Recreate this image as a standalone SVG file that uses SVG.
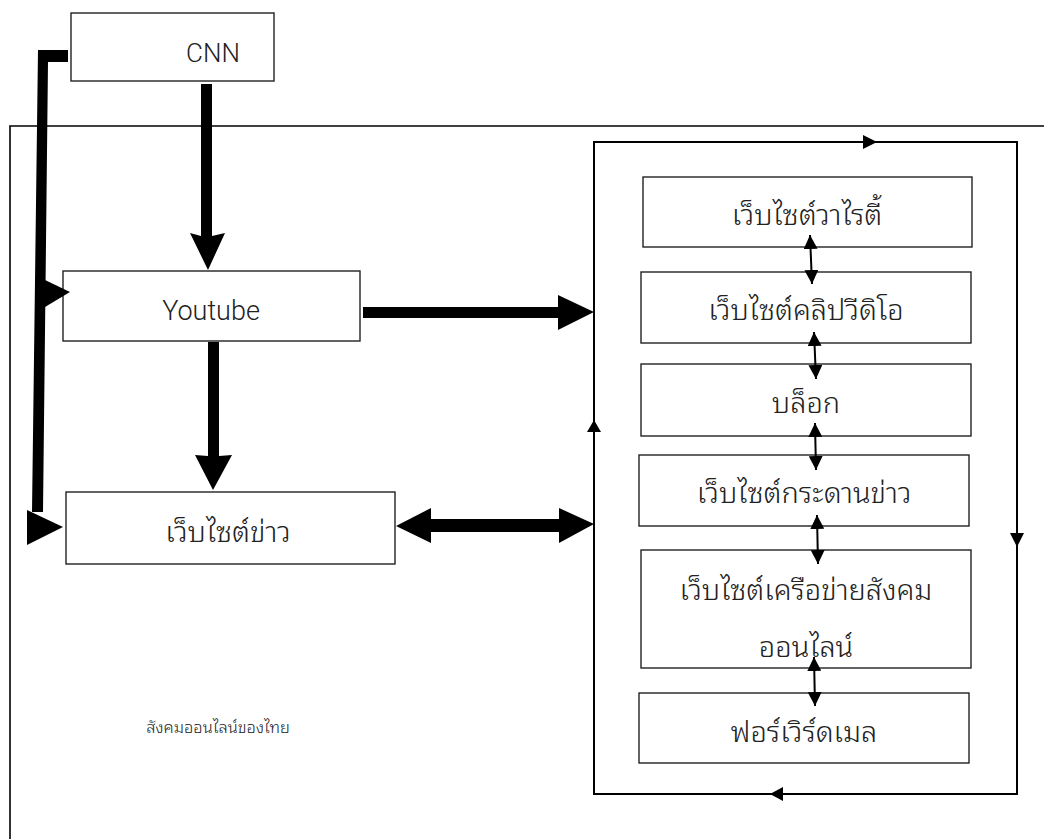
<svg xmlns="http://www.w3.org/2000/svg" width="1044" height="839" viewBox="0 0 1044 839">
<defs>
<style>
.box{fill:#fff;stroke:#222;stroke-width:1.4}
.t{font-family:"Noto Sans Thai Looped","Noto Serif Thai","Noto Sans Thai","Noto Sans",sans-serif;font-size:29px;font-weight:300;fill:#222;text-anchor:middle}
.e{font-family:Roboto,"Liberation Sans",Arial,sans-serif;font-size:27px;font-weight:300;fill:#222;text-anchor:middle}
.frame{fill:none;stroke:#000;stroke-width:1.6}
.loop{fill:none;stroke:#000;stroke-width:2}
.thin{stroke:#000;stroke-width:2}
</style>
<marker id="ah" viewBox="0 0 14 14" refX="14" refY="7" markerWidth="14" markerHeight="14" markerUnits="userSpaceOnUse" orient="auto-start-reverse"><path d="M0,0 L14,7 L0,14 Z" fill="#000"/></marker>
</defs>
<rect width="1044" height="839" fill="#fff"/>
<g id="outer"><path class="frame" d="M10,839 V126 H1044"/></g>
<g id="panel"><rect class="loop" x="594" y="142" width="423" height="652"/></g>
<g id="cnn"><rect class="box" x="71" y="13" width="203" height="68"/><text class="e" x="213" y="62" style="font-size:26px">CNN</text></g>
<g id="youtube"><rect class="box" x="63" y="271" width="297" height="70"/><text class="e" x="211" y="320">Youtube</text></g>
<g id="news"><rect class="box" x="66" y="492" width="329" height="72"/><text class="t" x="228" y="542">เว็บไซต์ข่าว</text></g>
<g id="variety"><rect class="box" x="643" y="177" width="329" height="70"/><text class="t" x="807" y="225">เว็บไซต์วาไรตี้</text></g>
<g id="clip"><rect class="box" x="641" y="272" width="330" height="71"/><text class="t" x="806" y="320">เว็บไซต์คลิปวีดิโอ</text></g>
<g id="blog"><rect class="box" x="641" y="364" width="330" height="72"/><text class="t" x="806" y="413">บล็อก</text></g>
<g id="board"><rect class="box" x="639" y="455" width="330" height="71"/><text class="t" x="804" y="503">เว็บไซต์กระดานข่าว</text></g>
<g id="social"><rect class="box" x="641" y="550" width="330" height="118"/><text class="t" x="806" y="600">เว็บไซต์เครือข่ายสังคม</text><text class="t" x="806" y="657">ออนไลน์</text></g>
<g id="mail"><rect class="box" x="639" y="693" width="330" height="70"/><text class="t" x="804" y="742">ฟอร์เวิร์ดเมล</text></g>
<g id="label"><text class="t" x="218" y="733" style="font-size:16.5px">สังคมออนไลน์ของไทย</text></g>
<g id="connectors">
<polygon points="201,84 212,84 212,236 225,233 208,270 190,233 201,236"/>
<polygon points="208,342 219,342 219,456 232,455 213,490 195,455 208,456"/>
<polygon points="38,50 68,50 68,62 48,62 43,512 32,512"/>
<polygon points="27,510 63,527 27,545"/>
<polygon points="45,280 70,292 45,307"/>
<polygon points="363,307 558,307 558,295 594,312 558,330 558,318 363,318"/>
<polygon points="396,526 431,508 431,519 559,519 559,508 594,524 559,543 559,532 431,532 431,543"/>
<polygon points="863,135 877,142 863,149"/>
<polygon points="1010,533 1017,547 1024,533"/>
<polygon points="783,787 770,794 783,801"/>
<polygon points="587,432 594,420 601,432"/>
<line class="thin" x1="810" y1="235" x2="812" y2="284" marker-start="url(#ah)" marker-end="url(#ah)"/>
<line class="thin" x1="814" y1="332" x2="816" y2="379" marker-start="url(#ah)" marker-end="url(#ah)"/>
<line class="thin" x1="815" y1="423" x2="816" y2="470" marker-start="url(#ah)" marker-end="url(#ah)"/>
<line class="thin" x1="817" y1="515" x2="818" y2="564" marker-start="url(#ah)" marker-end="url(#ah)"/>
<line class="thin" x1="814" y1="657" x2="815" y2="706" marker-start="url(#ah)" marker-end="url(#ah)"/>
</g>
</svg>
